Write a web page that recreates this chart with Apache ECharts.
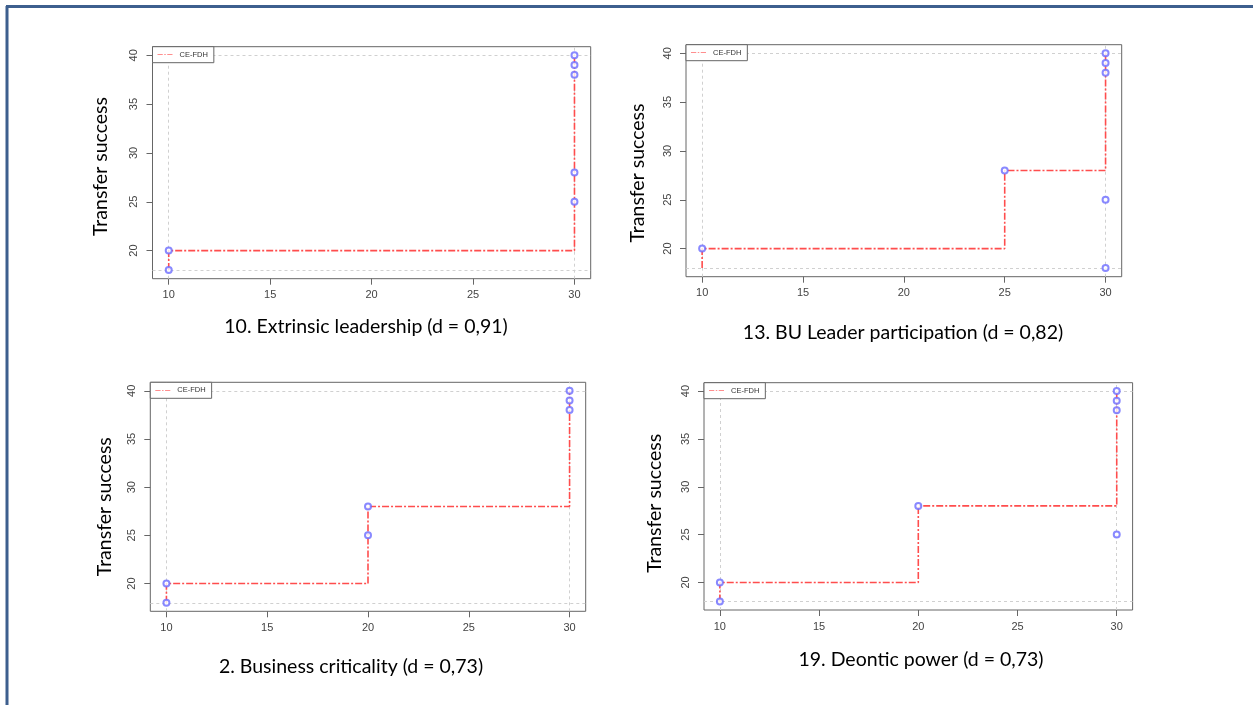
<!DOCTYPE html>
<html><head><meta charset="utf-8">
<script src="https://cdn.jsdelivr.net/npm/echarts@6/dist/echarts.min.js"></script>
<style>html,body{margin:0;padding:0;background:#fff}#c{width:1253px;height:705px}</style>
</head><body><div id="c"></div><script>
// ---- data ----
const panelTitles = [
  '10. Extrinsic leadership (d = 0,91)',
  '13. BU Leader participation (d = 0,82)',
  '2. Business criticality (d = 0,73)',
  '19. Deontic power (d = 0,73)'
];
const yAxisTitle = 'Transfer success';
const legendName = 'CE-FDH';
const xTicks = [10, 15, 20, 25, 30];
const yTicks = [20, 25, 30, 35, 40];

const p1X = [10, 10, 30, 30, 30, 30, 30];
const p1Y = [18, 20, 25, 28, 38, 39, 40];
const p1StepX = [10, 10, 30, 30];
const p1StepY = [18, 20, 20, 40];

const p2X = [10, 25, 30, 30, 30, 30, 30];
const p2Y = [20, 28, 18, 25, 38, 39, 40];
const p2StepX = [10, 10, 25, 25, 30, 30];
const p2StepY = [18, 20, 20, 28, 28, 40];

const p3X = [10, 10, 20, 20, 30, 30, 30];
const p3Y = [18, 20, 25, 28, 38, 39, 40];
const p3StepX = [10, 10, 20, 20, 30, 30];
const p3StepY = [18, 20, 20, 28, 28, 40];

const p4X = [10, 10, 20, 30, 30, 30, 30];
const p4Y = [18, 20, 28, 25, 38, 39, 40];
const p4StepX = [10, 10, 20, 20, 30, 30];
const p4StepY = [18, 20, 20, 28, 28, 40];

const panelsData = [
  {x: p1X, y: p1Y, sx: p1StepX, sy: p1StepY},
  {x: p2X, y: p2Y, sx: p2StepX, sy: p2StepY},
  {x: p3X, y: p3Y, sx: p3StepX, sy: p3StepY},
  {x: p4X, y: p4Y, sx: p4StepX, sy: p4StepY}
];

// ---- layout (pixels) ----
const layout = [
  {left: 152.5, top: 46.7, width: 438.2, height: 232, tx: 366, ty: 327, yx: 100.5, yy: 166.5},
  {left: 686,   top: 44.7, width: 435.7, height: 232, tx: 903, ty: 333, yx: 638,   yy: 173},
  {left: 150.3, top: 382.3, width: 435.4, height: 229, tx: 351, ty: 667, yx: 104.7, yy: 506.7},
  {left: 704,   top: 382.7, width: 428.6, height: 227.3, tx: 921, ty: 660, yx: 654.7, yy: 503.3}
];

const titleFont = 'Lato, "Open Sans", sans-serif';
const tickFont = '"Liberation Sans", Arial, sans-serif';
const dashIcon = 'path://M0,0h7v1h-7z M9,0h2v1h-2z M13,0h7v1h-7z';

const grids = [], xAxes = [], yAxes = [], series = [], legends = [], graphics = [];

panelsData.forEach((d, i) => {
  const L = layout[i];
  const allX = d.x.concat(d.sx), allY = d.y.concat(d.sy);
  const xmin = Math.min(...allX), xmax = Math.max(...allX);
  const ymin = Math.min(...allY), ymax = Math.max(...allY);
  const xr = xmax - xmin, yr = ymax - ymin;
  grids.push({left: L.left, top: L.top, width: L.width, height: L.height,
    show: true, borderColor: '#666', borderWidth: 1, backgroundColor: 'transparent', containLabel: false});
  xAxes.push({type: 'value', gridIndex: i, min: xmin - 0.04 * xr, max: xmax + 0.04 * xr,
    axisLine: {show: false}, splitLine: {show: false},
    axisTick: {show: true, inside: false, length: 6, customValues: xTicks, lineStyle: {color: '#666'}},
    axisLabel: {customValues: xTicks, margin: 11, fontSize: 11, color: '#444', fontFamily: tickFont}
  });
  yAxes.push({type: 'value', gridIndex: i, min: ymin - 0.04 * yr, max: ymax + 0.04 * yr,
    axisLine: {show: false}, splitLine: {show: false},
    axisTick: {show: true, inside: false, length: 6, customValues: yTicks, lineStyle: {color: '#666'}},
    axisLabel: {customValues: yTicks, rotate: 90, margin: 13, fontSize: 11, color: '#444', fontFamily: tickFont}
  });
  series.push({
    name: legendName, type: 'line', xAxisIndex: i, yAxisIndex: i,
    data: d.sx.map((v, k) => [v, d.sy[k]]),
    showSymbol: false, symbol: 'none', z: 3,
    lineStyle: {color: '#ff4d4d', width: 1.6, type: [7, 2, 2, 2]},
    itemStyle: {color: '#ff4d4d'},
    markLine: {
      silent: true, symbol: 'none', label: {show: false},
      lineStyle: {color: '#d0d0d0', type: [3, 3], width: 1},
      data: [{xAxis: xmin}, {xAxis: xmax}, {yAxis: ymin}, {yAxis: ymax}],
      z: 1
    }
  });
  series.push({
    name: 'points', type: 'scatter', xAxisIndex: i, yAxisIndex: i,
    data: d.x.map((v, k) => [v, d.y[k]]),
    symbol: 'emptyCircle', symbolSize: 6, z: 4,
    itemStyle: {color: '#6b6bff', borderColor: '#6b6bff', borderWidth: 1}
  });
  legends.push({
    data: [{name: legendName, icon: dashIcon}], left: L.left, top: L.top, orient: 'horizontal',
    backgroundColor: '#fff', borderColor: '#666', borderWidth: 1, borderRadius: 0,
    padding: [4, 6, 4, 5], itemWidth: 15, itemHeight: 1.5, itemGap: 5,
    selectedMode: false,
    itemStyle: {color: '#ff6a6a'},
    textStyle: {fontSize: 7.5, color: '#333', fontFamily: tickFont, padding: [0, 0, 0, 2]}
  });
  graphics.push({type: 'text', x: L.tx, y: L.ty,
    style: {text: panelTitles[i], font: '19.5px ' + titleFont, fill: '#000', textAlign: 'center', textVerticalAlign: 'middle'}});
  graphics.push({type: 'text', x: L.yx, y: L.yy, rotation: Math.PI / 2,
    style: {text: yAxisTitle, font: '19.5px ' + titleFont, fill: '#000', textAlign: 'center', textVerticalAlign: 'middle'}});
});

// frame
graphics.push({type: 'line', shape: {x1: 7, y1: 6, x2: 7, y2: 705}, style: {stroke: '#3d5f8e', lineWidth: 3}});
graphics.push({type: 'line', shape: {x1: 6, y1: 6.5, x2: 1253, y2: 6.5}, style: {stroke: '#3d5f8e', lineWidth: 3}});

const chart = echarts.init(document.getElementById('c'), null, {renderer: 'canvas'});
chart.setOption({
  animation: false,
  backgroundColor: '#fff',
  grid: grids, xAxis: xAxes, yAxis: yAxes, series: series, legend: legends, graphic: graphics
});
</script></body></html>
